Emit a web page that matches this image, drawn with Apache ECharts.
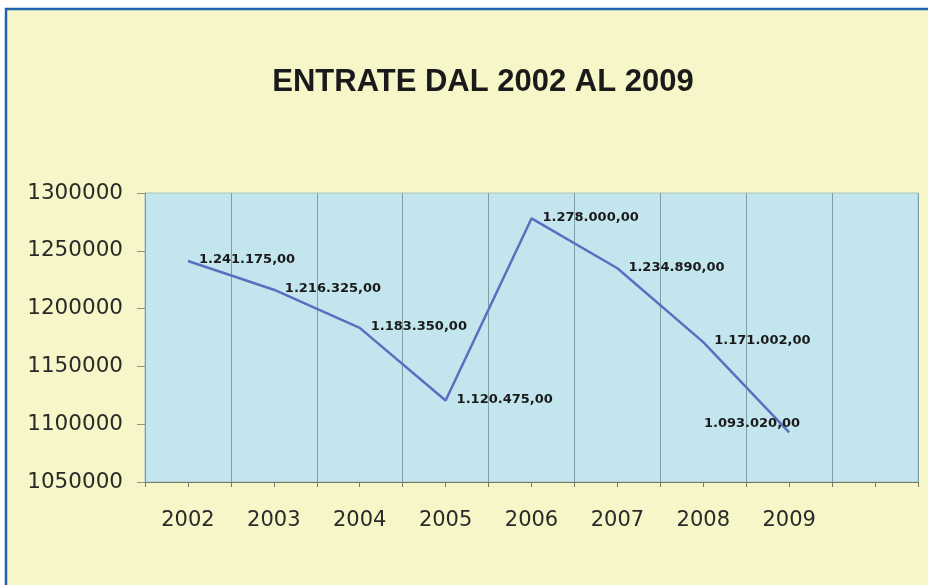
<!DOCTYPE html>
<html>
<head>
<meta charset="utf-8">
<script src="https://cdn.jsdelivr.net/npm/echarts@6/dist/echarts.min.js"></script>
<style>
html,body{margin:0;padding:0;background:#ffffff;}
#c{width:928px;height:585px;}
</style>
</head>
<body>
<div id="c"></div>
<script>
var titleText = 'ENTRATE DAL 2002 AL 2009';
var categories = ['2002','2003','2004','2005','2006','2007','2008','2009',''];
var values = [1241175, 1216325, 1183350, 1120475, 1278000, 1234890, 1171002, 1093020];
var yTicks = [1050000, 1100000, 1150000, 1200000, 1250000, 1300000];

function fmt(v){
  var s = String(Math.round(v)).replace(/\B(?=(\d{3})+(?!\d))/g, '.');
  return s + ',00';
}

var chart = echarts.init(document.getElementById('c'));
var seriesData = values.map(function(v, i){
  var d = {value: v};
  if (i === values.length - 1) {
    d.label = {position: [12, -8], align: 'right', verticalAlign: 'middle'};
  }
  return d;
});

chart.setOption({
  animation: false,
  backgroundColor: 'transparent',
  graphic: [{
    type: 'rect', z: -10, silent: true,
    shape: {x: 6, y: 9, width: 960, height: 620},
    style: {fill: '#f6f6c8', stroke: '#1f63ad', lineWidth: 2.5}
  }],
  title: {
    text: titleText, left: 478, top: 62, textAlign: 'center',
    textStyle: {fontFamily: 'Liberation Sans, Arial, sans-serif', fontWeight: 'bold', fontSize: 31, color: '#1a1a1a'}
  },
  grid: {left: 145, right: 10, top: 193, bottom: 103, show: true, backgroundColor: '#c3e5ee', borderColor: '#a9c2c2', borderWidth: 1},
  xAxis: [{
    type: 'category', data: categories, boundaryGap: true,
    axisLine: {lineStyle: {color: '#6f7d6a', width: 1.2}},
    axisTick: {show: true, length: 5, lineStyle: {color: '#6f7d6a'}},
    axisLabel: {margin: 28, fontFamily: 'DejaVu Sans, sans-serif', fontSize: 21, color: '#2a2a2a'},
    splitLine: {show: true, lineStyle: {color: '#7f9ea3', width: 1}}
  }, {
    type: 'category', data: categories, boundaryGap: true, position: 'bottom',
    axisLine: {show: false},
    axisTick: {show: true, alignWithLabel: true, length: 5, lineStyle: {color: '#6f7d6a'}},
    axisLabel: {show: false},
    splitLine: {show: false}
  }],
  yAxis: {
    type: 'value', min: yTicks[0], max: yTicks[yTicks.length - 1], interval: 50000,
    axisLine: {show: true, lineStyle: {color: '#8f9a86', width: 1}},
    axisTick: {show: true, length: 8, lineStyle: {color: '#8f9a86'}},
    axisLabel: {margin: 22, fontFamily: 'DejaVu Sans, sans-serif', fontSize: 21.5, color: '#2a2a2a',
      formatter: function(v){ return String(v); }},
    splitLine: {show: false}
  },
  series: [{
    type: 'line', data: seriesData, xAxisIndex: 0,
    symbol: 'circle', symbolSize: 2, showSymbol: true, showAllSymbol: true,
    itemStyle: {color: 'rgba(0,0,0,0)', borderWidth: 0},
    lineStyle: {color: '#5a6fbf', width: 2.5},
    labelLayout: {hideOverlap: false},
    label: {
      show: true, position: [12, 0], align: 'left', verticalAlign: 'middle',
      formatter: function(p){ return fmt(p.value); },
      fontFamily: 'DejaVu Sans, sans-serif', fontWeight: 'bold', fontSize: 13, color: '#1a1a1a'
    }
  }]
});
</script>
</body>
</html>
